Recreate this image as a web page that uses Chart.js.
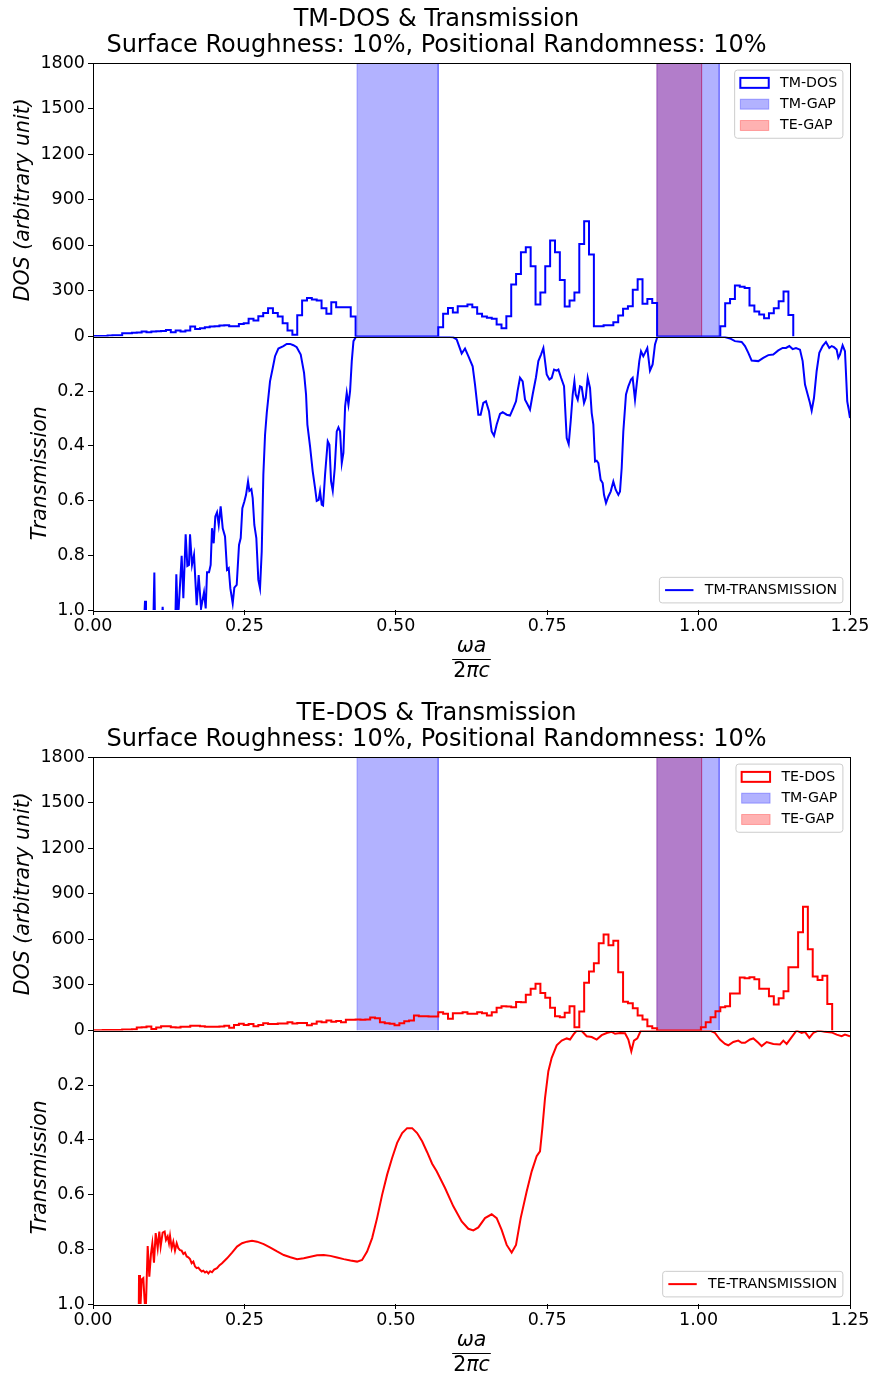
<!DOCTYPE html>
<html>
<head>
<meta charset="utf-8">
<script src="https://cdn.jsdelivr.net/npm/chart.js@4.4.1/dist/chart.umd.min.js"></script>
<style>
  html, body { margin: 0; padding: 0; background: #fff; }
  canvas { display: block; }
</style>
</head>
<body>
<canvas id="tmFig" width="873" height="694"></canvas>
<canvas id="teFig" width="873" height="681"></canvas>
<script>
// ---------------- data ----------------
const freqTicks = [0, 0.25, 0.5, 0.75, 1.0, 1.25];
const dosTicks = [0, 300, 600, 900, 1200, 1500, 1800];
const transTicks = [0, 0.2, 0.4, 0.6, 0.8, 1.0];

// histogram bins of the density of states (normalised frequency)
const DOS_BIN_START = 0;
const DOS_BIN_WIDTH = 0.00803;

const tmDos = [
  4, 4, 4, 7, 9, 9, 22, 22, 24, 26,
  33, 28, 33, 35, 37, 42, 28, 39, 33, 39,
  66, 50, 55, 61, 66, 68, 72, 74, 68, 68,
  83, 88, 116, 105, 134, 155, 186, 155, 131, 88,
  39, 11, 140, 237, 254, 243, 237, 186, 149, 226,
  193, 193, 193, 131, 0, 0, 0, 0, 0, 0,
  0, 0, 0, 0, 0, 0, 0, 0, 0, 0,
  0, 61, 149, 188, 158, 199, 199, 210, 193, 149,
  131, 123, 116, 79, 55, 134, 342, 412, 554, 587,
  462, 210, 289, 462, 631, 554, 372, 197, 237, 289,
  609, 758, 539, 68, 68, 74, 74, 94, 138, 182,
  199, 307, 377, 215, 247, 221, 0, 0, 0, 0,
  0, 0, 0, 0, 0, 0, 0, 0, 0, 68,
  219, 247, 335, 328, 320, 204, 164, 145, 120, 153,
  186, 232, 296, 142
];

const teDos = [
  2, 2, 3, 3, 4, 4, 7, 7, 9, 20,
  22, 26, 10, 20, 28, 28, 22, 20, 24, 24,
  31, 31, 28, 24, 24, 24, 26, 31, 18, 37,
  44, 37, 42, 28, 37, 48, 42, 42, 46, 46,
  55, 46, 50, 50, 35, 44, 59, 55, 66, 57,
  63, 55, 70, 70, 72, 70, 72, 85, 81, 55,
  48, 44, 35, 48, 61, 66, 99, 94, 94, 92,
  92, 120, 110, 77, 114, 114, 120, 110, 110, 120,
  114, 99, 120, 149, 160, 158, 153, 188, 186, 236,
  274, 307, 247, 215, 149, 94, 88, 116, 160, 22,
  125, 315, 388, 442, 574, 631, 561, 591, 383, 190,
  180, 147, 99, 72, 28, 15, 0, 0, 0, 0,
  0, 0, 0, 0, 0, 22, 55, 88, 127, 153,
  160, 243, 243, 348, 344, 350, 337, 274, 274, 226,
  171, 212, 258, 416, 416, 646, 815, 534, 355, 333,
  361, 175
];

// photonic band gaps [start, end]
const tmGaps = [[0.436, 0.570], [0.931, 1.034]];
const teGaps = [[0.931, 1.005]];

// transmission spectra
const tmFreq = [
  0.060, 0.0842, 0.0859, 0.0875, 0.0996, 0.1013, 0.1024, 0.1139, 0.1150, 0.1161,
  0.1360, 0.1376, 0.1398, 0.1415, 0.1464, 0.1492, 0.1530, 0.1558, 0.1585, 0.1602,
  0.1635, 0.1668, 0.1712, 0.1745, 0.1784, 0.1833, 0.1861, 0.1883, 0.1916, 0.1943,
  0.1965, 0.1993, 0.2020, 0.2048, 0.2076, 0.2108, 0.2142, 0.2180, 0.2213, 0.2241,
  0.2268, 0.2307, 0.2334, 0.2373, 0.2411, 0.2439, 0.2466, 0.2499, 0.2527, 0.2560,
  0.2582, 0.2615, 0.2637, 0.2664, 0.2697, 0.2730, 0.2758, 0.2786, 0.2813, 0.2841,
  0.2869, 0.2923, 0.2968, 0.3006, 0.3061, 0.3144, 0.3199, 0.3254, 0.3309, 0.3364,
  0.3430, 0.3485, 0.3518, 0.3540, 0.3584, 0.3628, 0.3667, 0.3694, 0.3727, 0.3749,
  0.3777, 0.3799, 0.3832, 0.3876, 0.3904, 0.3931, 0.3959, 0.3992, 0.4025, 0.4053,
  0.4080, 0.4108, 0.4135, 0.4163, 0.4190, 0.4218, 0.4245, 0.4273, 0.4301, 0.4345,
  0.5785, 0.5950, 0.6005, 0.6088, 0.6143, 0.6198, 0.6269, 0.6308, 0.6363, 0.6401,
  0.6445, 0.6489, 0.6539, 0.6583, 0.6622, 0.6666, 0.6721, 0.6765, 0.6831, 0.6886,
  0.6941, 0.6985, 0.7012, 0.7051, 0.7095, 0.7134, 0.7172, 0.7216, 0.7260, 0.7315,
  0.7354, 0.7398, 0.7437, 0.7492, 0.7536, 0.7575, 0.7613, 0.7657, 0.7685, 0.7729,
  0.7778, 0.7822, 0.7855, 0.7888, 0.7921, 0.7949, 0.7971, 0.8004, 0.8042, 0.8070,
  0.8108, 0.8136, 0.8169, 0.8207, 0.8235, 0.8262, 0.8290, 0.8317, 0.8345, 0.8383,
  0.8416, 0.8438, 0.8471, 0.8510, 0.8548, 0.8592, 0.8631, 0.8675, 0.8702, 0.8730,
  0.8757, 0.8801, 0.8840, 0.8884, 0.8911, 0.8950, 0.8977, 0.9021, 0.9049, 0.9087,
  0.9115, 0.9153, 0.9197, 0.9241, 0.9280, 0.9318, 0.9362, 1.0408, 1.0518, 1.0600,
  1.0711, 1.0766, 1.0821, 1.0876, 1.0986, 1.1068, 1.1151, 1.1233, 1.1316, 1.1388,
  1.1443, 1.1498, 1.1553, 1.1608, 1.1674, 1.1718, 1.1757, 1.1801, 1.1839, 1.1867,
  1.1905, 1.1949, 1.1993, 1.2048, 1.2103, 1.2158, 1.2197, 1.2235, 1.2279, 1.2307,
  1.2334, 1.2378, 1.2417, 1.2455, 1.2500
];
const tmTrans = [
  1.10, 1.05, 0.966, 1.05, 1.05, 0.863, 1.05, 1.03, 0.988, 1.03,
  1.03, 0.869, 1.02, 0.994, 0.802, 0.957, 0.723, 0.839, 0.835, 0.723,
  0.835, 0.798, 0.982, 0.872, 0.994, 0.935, 0.994, 0.862, 0.862, 0.835,
  0.701, 0.756, 0.658, 0.643, 0.689, 0.621, 0.701, 0.731, 0.853, 0.847,
  0.921, 0.976, 0.918, 0.908, 0.762, 0.737, 0.628, 0.603, 0.579, 0.530,
  0.564, 0.558, 0.591, 0.689, 0.737, 0.890, 0.921, 0.786, 0.505, 0.359,
  0.280, 0.164, 0.115, 0.072, 0.044, 0.035, 0.027, 0.027, 0.032, 0.039,
  0.066, 0.133, 0.212, 0.322, 0.402, 0.493, 0.554, 0.601, 0.597, 0.566,
  0.615, 0.618, 0.505, 0.383, 0.396, 0.530, 0.564, 0.481, 0.347, 0.332,
  0.347, 0.463, 0.426, 0.255, 0.206, 0.249, 0.200, 0.090, 0.017, 0.000,
  0.000, 0.003, 0.011, 0.062, 0.044, 0.072, 0.109, 0.176, 0.286, 0.286,
  0.243, 0.237, 0.273, 0.347, 0.363, 0.322, 0.283, 0.277, 0.286, 0.289,
  0.261, 0.237, 0.198, 0.151, 0.164, 0.231, 0.247, 0.267, 0.212, 0.149,
  0.090, 0.066, 0.042, 0.139, 0.157, 0.151, 0.121, 0.125, 0.121, 0.151,
  0.182, 0.371, 0.393, 0.310, 0.212, 0.164, 0.212, 0.231, 0.182, 0.185,
  0.243, 0.225, 0.151, 0.188, 0.280, 0.322, 0.457, 0.454, 0.463, 0.524,
  0.536, 0.579, 0.609, 0.585, 0.567, 0.530, 0.560, 0.579, 0.567, 0.481,
  0.347, 0.212, 0.182, 0.157, 0.151, 0.231, 0.176, 0.090, 0.054, 0.072,
  0.060, 0.042, 0.125, 0.102, 0.029, 0.002, 0.000, 0.000, 0.007, 0.017,
  0.020, 0.035, 0.060, 0.088, 0.090, 0.078, 0.068, 0.066, 0.051, 0.042,
  0.042, 0.035, 0.046, 0.042, 0.048, 0.090, 0.176, 0.212, 0.243, 0.271,
  0.225, 0.127, 0.060, 0.035, 0.020, 0.042, 0.035, 0.039, 0.048, 0.078,
  0.066, 0.032, 0.054, 0.237, 0.298
];

const teFreq = [
  0.060, 0.0755, 0.0760, 0.0776, 0.0804, 0.0831, 0.0848, 0.0862, 0.0875, 0.0903,
  0.0930, 0.0958, 0.0980, 0.1007, 0.1035, 0.1068, 0.1095, 0.1117, 0.1150, 0.1183,
  0.1205, 0.1233, 0.1255, 0.1272, 0.1299, 0.1326, 0.1354, 0.1382, 0.1409, 0.1437,
  0.1464, 0.1492, 0.1519, 0.1547, 0.1574, 0.1602, 0.1629, 0.1657, 0.1685, 0.1712,
  0.1740, 0.1767, 0.1795, 0.1822, 0.1850, 0.1877, 0.1905, 0.1935, 0.1965, 0.2000,
  0.2048, 0.2090, 0.2131, 0.2213, 0.2296, 0.2378, 0.2461, 0.2543, 0.2626, 0.2709,
  0.2819, 0.2929, 0.3039, 0.3150, 0.3260, 0.3370, 0.3480, 0.3590, 0.3700, 0.3810,
  0.3920, 0.4030, 0.4140, 0.4251, 0.4361, 0.4443, 0.4526, 0.4609, 0.4691, 0.4774,
  0.4857, 0.4939, 0.5022, 0.5105, 0.5187, 0.5270, 0.5352, 0.5435, 0.5518, 0.5600,
  0.5675, 0.5813, 0.5950, 0.6088, 0.6198, 0.6281, 0.6363, 0.6473, 0.6583, 0.6666,
  0.6748, 0.6831, 0.6913, 0.6985, 0.7062, 0.7161, 0.7244, 0.7326, 0.7381, 0.7420,
  0.7464, 0.7519, 0.7574, 0.7657, 0.7739, 0.7822, 0.7877, 0.7932, 0.7987, 0.8070,
  0.8152, 0.8235, 0.8317, 0.8400, 0.8483, 0.8565, 0.8620, 0.8702, 0.8785, 0.8840,
  0.8889, 0.8933, 0.8988, 0.9043, 0.9142, 1.0188, 1.0271, 1.0353, 1.0436, 1.0491,
  1.0573, 1.0656, 1.0711, 1.0766, 1.0849, 1.0904, 1.0986, 1.1041, 1.1124, 1.1234,
  1.1344, 1.1399, 1.1454, 1.1537, 1.1619, 1.1702, 1.1757, 1.1828, 1.1894, 1.1977,
  1.2087, 1.2197, 1.2280, 1.2362, 1.2417, 1.2500
];
const teTrans = [
  1.10, 1.05, 0.894, 1.05, 0.910, 0.905, 0.973, 1.02, 1.00, 0.788,
  0.900, 0.815, 0.778, 0.849, 0.741, 0.796, 0.735, 0.790, 0.739, 0.735,
  0.766, 0.753, 0.778, 0.751, 0.796, 0.772, 0.805, 0.778, 0.796, 0.803,
  0.805, 0.817, 0.812, 0.826, 0.829, 0.836, 0.851, 0.845, 0.863, 0.869,
  0.867, 0.875, 0.881, 0.878, 0.885, 0.881, 0.888, 0.880, 0.884, 0.874,
  0.869, 0.858, 0.851, 0.833, 0.812, 0.790, 0.778, 0.772, 0.769, 0.772,
  0.781, 0.794, 0.808, 0.821, 0.829, 0.836, 0.833, 0.827, 0.822, 0.821,
  0.824, 0.830, 0.836, 0.841, 0.845, 0.839, 0.808, 0.759, 0.686, 0.601,
  0.527, 0.466, 0.411, 0.375, 0.357, 0.357, 0.375, 0.405, 0.445, 0.487,
  0.515, 0.576, 0.643, 0.698, 0.725, 0.731, 0.720, 0.686, 0.672, 0.686,
  0.729, 0.784, 0.812, 0.784, 0.686, 0.589, 0.515, 0.460, 0.442, 0.357,
  0.247, 0.149, 0.100, 0.054, 0.037, 0.029, 0.033, 0.015, 0.000, 0.002,
  0.021, 0.024, 0.033, 0.017, 0.009, 0.005, 0.012, 0.009, 0.010, 0.033,
  0.076, 0.037, 0.029, 0.002, 0.000, 0.000, 0.009, 0.033, 0.049, 0.054,
  0.042, 0.037, 0.045, 0.045, 0.033, 0.029, 0.045, 0.057, 0.042, 0.049,
  0.051, 0.037, 0.049, 0.024, 0.000, 0.009, 0.005, 0.027, 0.009, 0.000,
  0.005, 0.007, 0.015, 0.021, 0.015, 0.021
];

// ---------------- styling ----------------
const FONT = '"DejaVu Sans", sans-serif';
const TITLE_SIZE = 24;
const LABEL_SIZE = 20.5;
const TICK_SIZE = 17.5;
const LEGEND_SIZE = 14.2;
const Y_AXIS_WIDTH = 93;      // left margin holding the y tick labels and titles
const RIGHT_MARGIN = 23;
const PLOT_BOTTOM = 610;      // bottom of the plotting area in each figure

const TM_GAP_FILL = 'rgba(0,0,255,0.3)';
const TE_GAP_FILL = 'rgba(255,0,0,0.3)';

// ---------------- helpers ----------------
function histogramSteps(values) {
  const pts = [{ x: DOS_BIN_START, y: 0 }];
  values.forEach((v, i) => pts.push({ x: DOS_BIN_START + i * DOS_BIN_WIDTH, y: v }));
  pts.push({ x: DOS_BIN_START + values.length * DOS_BIN_WIDTH, y: 0 });
  return pts;
}

function spanBox(gap) {
  const top = dosTicks[dosTicks.length - 1];
  return [{ x: gap[0], y: 0 }, { x: gap[0], y: top }, { x: gap[1], y: top }, { x: gap[1], y: 0 }];
}

function pairPoints(xs, ys) {
  return xs.map((x, i) => ({ x, y: ys[i] }));
}

function fixedTicks(values) {
  return (scale) => { scale.ticks = values.map(v => ({ value: v })); };
}

// full box around each stacked panel
const panelFrame = {
  id: 'panelFrame',
  afterDatasetsDraw(chart) {
    const { ctx, chartArea } = chart;
    ctx.save();
    ctx.strokeStyle = '#000';
    ctx.lineWidth = 1;
    for (const id of ['yDos', 'yT']) {
      const s = chart.scales[id];
      ctx.strokeRect(Math.round(chartArea.left) + 0.5, Math.round(s.top) + 0.5,
        Math.round(chartArea.right - chartArea.left), Math.round(s.bottom - s.top));
    }
    ctx.restore();
  }
};

// legends placed inside the panels, upper right / lower right
const insetLegend = {
  id: 'insetLegend',
  afterDatasetsDraw(chart, args, opts) {
    const { ctx, chartArea } = chart;
    const em = LEGEND_SIZE;
    const pad = 0.4 * em, hl = 2 * em, htp = 0.8 * em, ls = 0.5 * em, bap = 0.5 * em;
    for (const lg of opts.boxes || []) {
      const s = chart.scales[lg.axis];
      ctx.save();
      ctx.font = `${em}px ${FONT}`;
      const textW = Math.max(...lg.items.map(it => ctx.measureText(it.label).width));
      const n = lg.items.length;
      const w = 2 * pad + hl + htp + textW;
      const h = 2 * pad + n * em + (n - 1) * ls;
      const x0 = chartArea.right - bap - w;
      const y0 = lg.corner === 'upper' ? s.top + bap : s.bottom - bap - h;
      const r = 0.2 * em;
      ctx.beginPath();
      ctx.moveTo(x0 + r, y0);
      ctx.arcTo(x0 + w, y0, x0 + w, y0 + h, r);
      ctx.arcTo(x0 + w, y0 + h, x0, y0 + h, r);
      ctx.arcTo(x0, y0 + h, x0, y0, r);
      ctx.arcTo(x0, y0, x0 + w, y0, r);
      ctx.closePath();
      ctx.fillStyle = 'rgba(255,255,255,0.8)';
      ctx.fill();
      ctx.strokeStyle = '#cccccc';
      ctx.lineWidth = 1;
      ctx.stroke();
      lg.items.forEach((it, i) => {
        const cy = y0 + pad + i * (em + ls) + em / 2;
        const hx = x0 + pad;
        if (it.kind === 'line') {
          ctx.strokeStyle = it.color;
          ctx.lineWidth = 2;
          ctx.beginPath();
          ctx.moveTo(hx, cy);
          ctx.lineTo(hx + hl, cy);
          ctx.stroke();
        } else if (it.kind === 'outline') {
          ctx.fillStyle = '#fff';
          ctx.fillRect(hx, cy - 0.35 * em, hl, 0.7 * em);
          ctx.strokeStyle = it.color;
          ctx.lineWidth = 2;
          ctx.strokeRect(hx, cy - 0.35 * em, hl, 0.7 * em);
        } else {
          ctx.fillStyle = it.fill;
          ctx.fillRect(hx, cy - 0.35 * em, hl, 0.7 * em);
          ctx.strokeStyle = it.fill;
          ctx.lineWidth = 1;
          ctx.strokeRect(hx, cy - 0.35 * em, hl, 0.7 * em);
        }
        ctx.fillStyle = '#000';
        ctx.textAlign = 'left';
        ctx.textBaseline = 'middle';
        ctx.fillText(it.label, hx + hl + htp, cy);
      });
      ctx.restore();
    }
  }
};

// x-axis title: ωa / 2πc as a stacked fraction
const fractionLabel = {
  id: 'fractionLabel',
  afterDraw(chart) {
    const { ctx, chartArea } = chart;
    const cx = (chartArea.left + chartArea.right) / 2;
    const base = chartArea.bottom;
    const italic = `italic ${LABEL_SIZE}px ${FONT}`;
    const upright = `${LABEL_SIZE}px ${FONT}`;
    ctx.save();
    ctx.fillStyle = '#000';
    ctx.textBaseline = 'middle';
    ctx.textAlign = 'left';
    ctx.font = italic;
    const numW = ctx.measureText('ωa').width;
    ctx.fillText('ωa', cx - numW / 2, base + 37);
    ctx.font = upright;
    const w2 = ctx.measureText('2').width;
    ctx.font = italic;
    const wRest = ctx.measureText('πc').width;
    const denW = w2 + wRest;
    const dx = cx - denW / 2;
    ctx.font = upright;
    ctx.fillText('2', dx, base + 62);
    ctx.font = italic;
    ctx.fillText('πc', dx + w2, base + 62);
    const barW = Math.max(numW, denW) + 2;
    ctx.strokeStyle = '#000';
    ctx.lineWidth = 1;
    ctx.beginPath();
    ctx.moveTo(cx - barW / 2, Math.round(base + 49) + 0.5);
    ctx.lineTo(cx + barW / 2, Math.round(base + 49) + 0.5);
    ctx.stroke();
    ctx.restore();
  }
};

function tickFont() { return { family: FONT, size: TICK_SIZE }; }

function buildFigure(canvasId, cfg) {
  const datasets = [
    {
      label: cfg.transLabel,
      data: pairPoints(cfg.transFreq, cfg.transValues),
      xAxisID: 'x', yAxisID: 'yT',
      borderColor: cfg.color, borderWidth: 2,
      pointRadius: 0, tension: 0, fill: false, order: 0
    },
    {
      label: cfg.dosLabel,
      data: histogramSteps(cfg.dosValues),
      xAxisID: 'x', yAxisID: 'yDos',
      stepped: 'before',
      borderColor: cfg.color, borderWidth: 2,
      pointRadius: 0, fill: false, order: 1
    }
  ];
  tmGaps.forEach(g => datasets.push({
    label: 'TM-GAP', data: spanBox(g), xAxisID: 'x', yAxisID: 'yDos',
    borderColor: TM_GAP_FILL, backgroundColor: TM_GAP_FILL, borderWidth: 1,
    pointRadius: 0, fill: 'origin', order: 2
  }));
  teGaps.forEach(g => datasets.push({
    label: 'TE-GAP', data: spanBox(g), xAxisID: 'x', yAxisID: 'yDos',
    borderColor: TE_GAP_FILL, backgroundColor: TE_GAP_FILL, borderWidth: 1,
    pointRadius: 0, fill: 'origin', order: 3
  }));

  return new Chart(document.getElementById(canvasId), {
    type: 'line',
    data: { datasets },
    options: {
      responsive: false,
      animation: false,
      devicePixelRatio: 1,
      events: [],
      layout: { padding: 0 },
      plugins: {
        legend: { display: false },
        tooltip: { enabled: false },
        title: {
          display: true,
          text: cfg.title,
          color: '#000',
          font: { family: FONT, size: TITLE_SIZE, weight: 'normal', lineHeight: 26 / TITLE_SIZE },
          padding: { top: 7, bottom: 4 }
        },
        insetLegend: {
          boxes: [
            { axis: 'yDos', corner: 'upper', items: [
              { kind: 'outline', color: cfg.color, label: cfg.dosLabel },
              { kind: 'patch', fill: TM_GAP_FILL, label: 'TM-GAP' },
              { kind: 'patch', fill: TE_GAP_FILL, label: 'TE-GAP' }
            ] },
            { axis: 'yT', corner: 'lower', items: [
              { kind: 'line', color: cfg.color, label: cfg.transLabel }
            ] }
          ]
        }
      },
      scales: {
        x: {
          type: 'linear', position: 'bottom',
          min: freqTicks[0], max: freqTicks[freqTicks.length - 1],
          afterBuildTicks: fixedTicks(freqTicks),
          ticks: { font: tickFont(), color: '#000', padding: 1, maxRotation: 0, autoSkip: false,
                   callback: v => v.toFixed(2) },
          grid: { drawOnChartArea: false, tickLength: 5, tickColor: '#000', tickWidth: 1 },
          border: { display: false },
          afterFit: s => { s.height = s.chart.height - PLOT_BOTTOM; }
        },
        yDos: {
          type: 'linear', position: 'left', stack: 'panels', stackWeight: 1, weight: 1,
          min: dosTicks[0], max: dosTicks[dosTicks.length - 1],
          afterBuildTicks: fixedTicks(dosTicks),
          ticks: { font: tickFont(), color: '#000', padding: 3, autoSkip: false,
                   callback: v => String(v) },
          grid: { drawOnChartArea: false, tickLength: 5, tickColor: '#000', tickWidth: 1 },
          border: { display: false },
          title: { display: true, text: 'DOS (arbitrary unit)', color: '#000',
                   font: { family: FONT, size: LABEL_SIZE, style: 'italic' },
                   padding: { top: 11, bottom: 0 } },
          afterFit: s => { s.width = Y_AXIS_WIDTH; }
        },
        yT: {
          type: 'linear', position: 'left', stack: 'panels', stackWeight: 1, weight: 0,
          reverse: true,
          min: transTicks[0], max: transTicks[transTicks.length - 1],
          afterBuildTicks: fixedTicks(transTicks),
          ticks: { font: tickFont(), color: '#000', padding: 3, autoSkip: false,
                   callback: v => (v === 0 ? '' : v.toFixed(1)) },
          grid: { drawOnChartArea: false, tickLength: 5, tickColor: '#000', tickWidth: 1 },
          border: { display: false },
          title: { display: true, text: 'Transmission', color: '#000',
                   font: { family: FONT, size: LABEL_SIZE, style: 'italic' },
                   padding: { top: 28, bottom: 0 } },
          afterFit: s => { s.width = Y_AXIS_WIDTH; }
        },
        margin: {
          type: 'linear', position: 'right', display: true,
          ticks: { display: false },
          grid: { display: false, drawTicks: false },
          border: { display: false },
          afterFit: s => { s.width = RIGHT_MARGIN; }
        }
      }
    },
    plugins: [panelFrame, insetLegend, fractionLabel]
  });
}

Chart.defaults.font.family = FONT;

buildFigure('tmFig', {
  title: ['TM-DOS & Transmission', 'Surface Roughness: 10%, Positional Randomness: 10%'],
  color: 'blue',
  dosLabel: 'TM-DOS',
  dosValues: tmDos,
  transLabel: 'TM-TRANSMISSION',
  transFreq: tmFreq,
  transValues: tmTrans
});

buildFigure('teFig', {
  title: ['TE-DOS & Transmission', 'Surface Roughness: 10%, Positional Randomness: 10%'],
  color: 'red',
  dosLabel: 'TE-DOS',
  dosValues: teDos,
  transLabel: 'TE-TRANSMISSION',
  transFreq: teFreq,
  transValues: teTrans
});
</script>
</body>
</html>
